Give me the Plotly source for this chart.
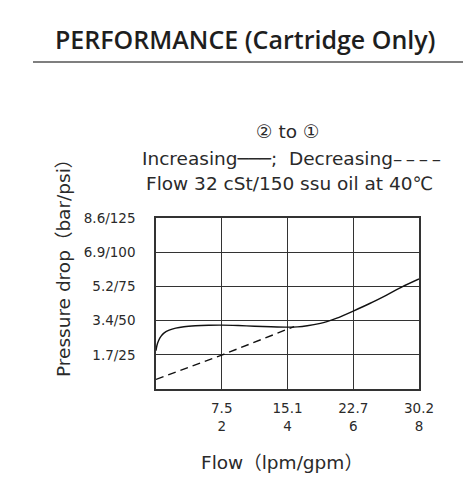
import plotly.graph_objects as go

# Data (x in gpm, y in psi)
inc_flow = [0, 0.03, 0.08, 0.15, 0.25, 0.4, 0.6, 0.85, 1.2, 1.6, 2.0, 2.5, 3.0, 3.5, 4.0, 4.3, 4.6, 5.0, 5.2, 5.5, 6.0, 6.5, 7.0, 7.5, 8.0]
inc_psi = [28, 32, 35.5, 38.5, 41, 43, 44.5, 45.5, 46.2, 46.6, 46.7, 46.4, 45.9, 45.5, 45.2, 45.4, 46.2, 48.0, 49.3, 51.8, 57.0, 62.5, 68.5, 74.8, 80.4]
dec_flow = [0, 2.0, 4.2]
dec_psi = [7.0, 24.8, 45.6]

x_tickvals = [2, 4, 6, 8]
x_ticktext = ["7.5<br>2", "15.1<br>4", "22.7<br>6", "30.2<br>8"]
y_tickvals = [25, 50, 75, 100, 125]
y_ticktext = ["1.7/25", "3.4/50", "5.2/75", "6.9/100", "8.6/125"]

FONT = "DejaVu Sans, Liberation Sans, Noto Sans CJK SC"
TITLE_FONT = "Open Sans, DejaVu Sans, Liberation Sans"
TXT = "#2a2a2a"

fig = go.Figure()
fig.add_trace(go.Scatter(x=inc_flow, y=inc_psi, mode="lines", line=dict(color="#111111", width=1.4, shape="spline", smoothing=0.6), showlegend=False, hoverinfo="skip"))
fig.add_trace(go.Scatter(x=dec_flow, y=dec_psi, mode="lines", line=dict(color="#111111", width=1.4, dash="8px,5px"), showlegend=False, hoverinfo="skip"))

L, R, T, B = 156, 419, 218, 389
W, H = 470, 504
pw, ph = R - L, B - T

def px(x):
    return (x - L) / pw

def py(y):
    return (B - y) / ph

fig.update_layout(
    width=W, height=H,
    margin=dict(l=L, r=W - R, t=T, b=H - B, pad=0),
    paper_bgcolor="white", plot_bgcolor="white",
    font=dict(family=FONT, color=TXT, size=13.5),
    xaxis=dict(range=[0, 8], tickvals=x_tickvals, ticktext=x_ticktext, showgrid=True, gridcolor="#333333", gridwidth=1.3,
               showline=True, linecolor="#333333", linewidth=1.5, mirror=True, zeroline=False, ticks="",
               tickfont=dict(size=13.5, color=TXT, family=FONT), ticklabelstandoff=6),
    yaxis=dict(range=[0, 125], tickvals=y_tickvals, ticktext=y_ticktext, showgrid=True, gridcolor="#333333", gridwidth=1.3,
               showline=True, linecolor="#333333", linewidth=1.5, mirror=True, zeroline=False, ticks="",
               tickfont=dict(size=13.5, color=TXT, family=FONT), ticklabelstandoff=16),
)

ann = [
    dict(text="PERFORMANCE (Cartridge Only)", x=px(245), y=py(39), font=dict(size=25, color="#1e1e1e", family=TITLE_FONT, weight=600)),
    dict(text="② to ①", x=px(288), y=py(131), font=dict(size=18.5)),
    dict(text="Increasing───;  Decreasing–\u2009–\u2009–\u2009–", x=px(291), y=py(158), font=dict(size=18.5)),
    dict(text="Flow 32 cSt/150 ssu oil at 40℃", x=px(289), y=py(183), font=dict(size=18.5)),
    dict(text="Flow（lpm/gpm）", x=px(282), y=py(462), font=dict(size=18.5)),
    dict(text="Pressure drop（bar/psi）", x=px(63), y=py(264), textangle=-90, font=dict(size=18.5)),
]
for a in ann:
    fig.add_annotation(xref="paper", yref="paper", showarrow=False, xanchor="center", yanchor="middle", **a)

fig.add_shape(type="line", xref="paper", yref="paper", x0=px(33), x1=px(463), y0=py(62), y1=py(62), line=dict(color="#555555", width=1.5))

fig.write_html("out.html")
